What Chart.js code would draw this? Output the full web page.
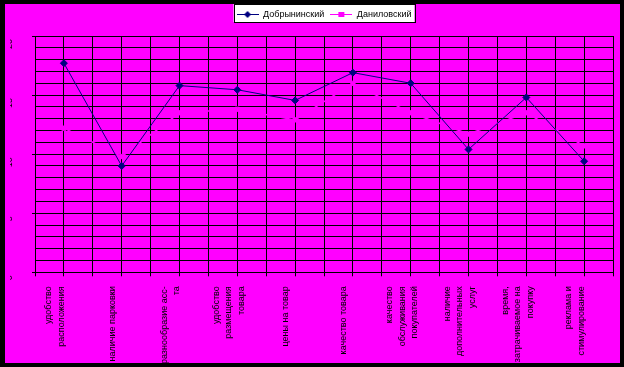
<!DOCTYPE html>
<html>
<head>
<meta charset="utf-8">
<script src="https://cdn.jsdelivr.net/npm/chart.js@4.4.1/dist/chart.umd.min.js"></script>
<style>
    html, body { margin: 0; padding: 0; background: #000; }
    #cadre { position: absolute; left: 5px; top: 4px; width: 615px; height: 359px; background: #ff00ff; }
</style>
</head>
<body>
<div id="cadre"><canvas id="graphique" width="615" height="359"></canvas></div>
<script>
// critères (une ligne par ligne de texte)
let categories = [
    ["удобство", "расположения"],
    ["наличие парковки"],
    ["разнообразие асс-", "та"],
    ["удобство", "размещения", "товара"],
    ["цены на товар"],
    ["качество товара"],
    ["качество", "обслуживания", "покупателей"],
    ["наличие", "дополнительных", "услуг"],
    ["время,", "затрачиваемое на", "покупку"],
    ["реклама и", "стимулирование"]
]
let series      = ["Добрынинский", "Даниловский"]
let dobryninsky = [17.7, 9.0, 15.8, 15.45, 14.55, 16.9, 16.0, 10.4, 14.8, 9.4]
let danilovsky  = [12.2, 9.8, 13.5, 13.8, 12.9, 16.0, 13.5, 11.7, 13.5, 10.7]
let yTicks      = [0, 5, 10, 15, 20]

// décalage des étiquettes (en dixièmes de catégorie) selon le nombre de lignes
let decalage = { 1: -2, 2: -3, 3: -4 }

function points(valeurs) {
    return valeurs.map((v, i) => ({ x: i + 0.5, y: v }))
}

function icone(couleur, forme) {
    let c = document.createElement("canvas")
    c.width = 22
    c.height = 9
    let g = c.getContext("2d")
    g.strokeStyle = couleur
    g.fillStyle = couleur
    g.lineWidth = 1
    g.beginPath()
    g.moveTo(0, 4.5)
    g.lineTo(22, 4.5)
    g.stroke()
    if (forme === "losange") {
        g.beginPath()
        g.moveTo(11, 1)
        g.lineTo(14.5, 4.5)
        g.lineTo(11, 8)
        g.lineTo(7.5, 4.5)
        g.closePath()
        g.fill()
    } else {
        g.fillRect(8, 2, 6, 5)
    }
    return c
}

let icones = [icone("#000080", "losange"), icone("#ff00ff", "carre")]

let cadreLegende = {
    id: "cadreLegende",
    beforeDraw(chart) {
        let boites = chart.legend.legendHitBoxes
        if (!boites || !boites.length) return
        let gauche = Math.min(...boites.map(b => b.left)) - 3
        let droite = Math.max(...boites.map(b => b.left + b.width)) + 3
        let haut = boites[0].top - 6
        let bas = boites[0].top + boites[0].height + 3
        let ctx = chart.ctx
        ctx.save()
        ctx.fillStyle = "#ffffff"
        ctx.fillRect(gauche, haut, droite - gauche, bas - haut)
        ctx.strokeStyle = "#000000"
        ctx.lineWidth = 1
        ctx.strokeRect(Math.round(gauche) + 0.5, Math.round(haut) + 0.5, Math.round(droite - gauche), Math.round(bas - haut))
        ctx.restore()
    }
}

new Chart(document.getElementById("graphique"), {
    type: "line",
    data: {
        datasets: [{
            label: series[0],
            data: points(dobryninsky),
            borderColor: "#000080",
            backgroundColor: "#000080",
            borderWidth: 1,
            pointStyle: "rectRot",
            pointRadius: 3.5,
            pointBorderWidth: 1,
            tension: 0
        }, {
            label: series[1],
            data: points(danilovsky),
            borderColor: "#ff00ff",
            backgroundColor: "#ff00ff",
            borderWidth: 1.5,
            pointStyle: "rect",
            pointRadius: 3,
            pointBorderWidth: 1,
            tension: 0
        }]
    },
    options: {
        responsive: false,
        animation: false,
        layout: { padding: { left: 5, right: 7, top: 0, bottom: 0 } },
        plugins: {
            tooltip: { enabled: false },
            legend: {
                position: "top",
                fullSize: false,
                labels: {
                    usePointStyle: true,
                    pointStyleWidth: 22,
                    boxWidth: 22,
                    boxHeight: 9,
                    padding: 6,
                    color: "#000000",
                    font: { family: "'Liberation Sans', Arial, sans-serif", size: 9 },
                    generateLabels: chart => chart.data.datasets.map((ds, i) => ({
                        text: ds.label,
                        pointStyle: icones[i],
                        fillStyle: "transparent",
                        strokeStyle: "transparent",
                        lineWidth: 0,
                        fontColor: "#000000",
                        hidden: false,
                        datasetIndex: i
                    }))
                }
            }
        },
        scales: {
            haut: {
                axis: "x",
                type: "linear",
                position: "top",
                grid: { display: false },
                border: { display: false },
                ticks: { display: false },
                afterFit: s => { s.height = 7; s.paddingLeft = 0; s.paddingRight = 0 }
            },
            x: {
                type: "linear",
                position: "bottom",
                min: 0,
                max: 10,
                afterFit: s => { s.height = 90.7; s.paddingLeft = 0; s.paddingRight = 0 },
                border: { color: "#000000", width: 1 },
                grid: {
                    color: c => Math.round(c.tick.value * 10) % 5 === 0 ? "#000000" : "transparent",
                    tickColor: c => Math.round(c.tick.value * 10) % 5 === 0 ? "#000000" : "transparent",
                    lineWidth: 1,
                    tickLength: 4
                },
                ticks: {
                    stepSize: 0.1,
                    autoSkip: false,
                    minRotation: 90,
                    maxRotation: 90,
                    padding: 10,
                    labelOffset: 2,
                    color: "#000000",
                    font: { family: "'Liberation Sans', Arial, sans-serif", size: 9, lineHeight: "12.6px" },
                    callback: value => {
                        let k = Math.round(value * 10)
                        for (let i = 0; i < categories.length; i++) {
                            if (k === i * 10 + 5 + decalage[categories[i].length]) return categories[i]
                        }
                        return ""
                    }
                }
            },
            y: {
                min: 0,
                max: 20,
                afterFit: s => { s.width = 25; s.paddingTop = 0; s.paddingBottom = 0 },
                border: { color: "#000000", width: 1 },
                grid: {
                    color: "#000000",
                    tickColor: c => yTicks.includes(c.tick.value) ? "#000000" : "transparent",
                    lineWidth: 1,
                    tickLength: 3
                },
                ticks: {
                    stepSize: 1,
                    autoSkip: false,
                    minRotation: 90,
                    maxRotation: 90,
                    crossAlign: "near",
                    padding: 22,
                    labelOffset: 3,
                    color: "#000000",
                    font: { family: "'Liberation Sans', Arial, sans-serif", size: 9 },
                    callback: value => yTicks.includes(value) ? String(value) : ""
                }
            }
        }
    },
    plugins: [cadreLegende]
})
</script>
</body>
</html>
